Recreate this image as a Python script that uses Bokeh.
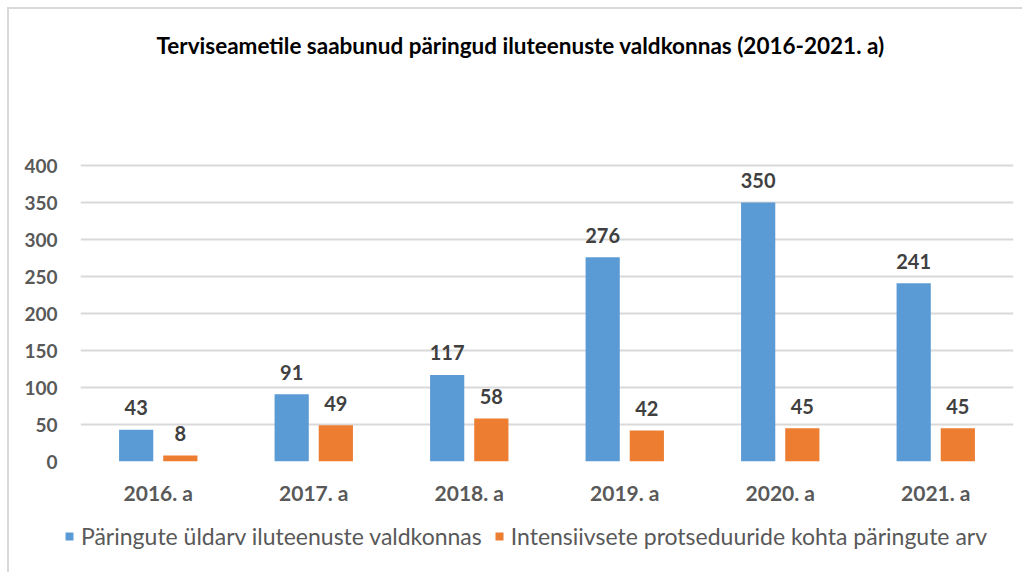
from bokeh.plotting import figure
from bokeh.models import (ColumnDataSource, FactorRange, Range1d, FixedTicker,
                          LabelSet, Label, Legend, LegendItem)
from bokeh.core.properties import value
from bokeh.transform import dodge
from bokeh.embed import file_html
from bokeh.resources import INLINE

years = ["2016. a", "2017. a", "2018. a", "2019. a", "2020. a", "2021. a"]
total = [43, 91, 117, 276, 350, 241]
intensive = [8, 49, 58, 42, 45, 45]
series_names = ["Päringute üldarv iluteenuste valdkonnas",
                "Intensiivsete protseduuride kohta päringute arv"]
title_text = "Terviseametile saabunud päringud iluteenuste valdkonnas (2016-2021. a)"
y_ticks = [0, 50, 100, 150, 200, 250, 300, 350, 400]

BLUE = "#5B9BD5"
ORANGE = "#ED7D31"
FONT = "Lato"

src = ColumnDataSource(dict(years=years, total=total, intensive=intensive,
                            total_s=[str(v) for v in total],
                            intensive_s=[str(v) for v in intensive]))

# ---- main chart ----
p = figure(x_range=FactorRange(*years, range_padding=0), y_range=Range1d(0, 597.3),
           width=1015, height=500, output_backend="svg", toolbar_location=None,
           min_border_left=71, min_border_right=11, min_border_top=10,
           min_border_bottom=48)
p.styles = {"margin-left": "7px", "margin-top": "7px",
            "border-left": "2px solid #d9d9d9", "border-top": "2px solid #d9d9d9"}

off = 0.142
w = 0.22
p.vbar(x=dodge("years", -off, range=p.x_range), top="total", width=w,
       source=src, fill_color=BLUE, line_color=None)
p.vbar(x=dodge("years", off, range=p.x_range), top="intensive", width=w,
       source=src, fill_color=ORANGE, line_color=None)

for col, d in (("total", -off), ("intensive", off)):
    ls = LabelSet(x=dodge("years", d, range=p.x_range), y=col, text=col + "_s",
                  source=src, text_align="center", text_baseline="middle",
                  y_offset=22, text_font=value(FONT), text_font_size="20px",
                  text_font_style="bold", text_color="#404040")
    p.add_layout(ls)

p.add_layout(Label(x=2.83, y=562, text=title_text, text_align="center",
                   text_baseline="middle", text_font=FONT,
                   text_font_size="22.5px", text_font_style="bold",
                   text_color="#000000"))

p.outline_line_color = None
p.xgrid.grid_line_color = None
p.ygrid.grid_line_color = "#d9d9d9"
p.ygrid.grid_line_width = 2
p.yaxis.ticker = FixedTicker(ticks=y_ticks)
for ax in (p.xaxis, p.yaxis):
    ax.axis_line_color = None
    ax.major_tick_line_color = None
    ax.minor_tick_line_color = None
    ax.major_label_text_font = FONT
    ax.major_label_text_font_style = "bold"
    ax.major_label_text_color = "#595959"
p.yaxis.major_label_text_font_size = "19px"
p.xaxis.major_label_text_font_size = "21px"
p.yaxis.major_label_standoff = 17
p.xaxis.major_label_standoff = 12

# ---- legend strip (separate root so its frame starts at the left edge) ----
q = figure(x_range=Range1d(0, 1), y_range=Range1d(0, 1), width=1015, height=65,
           output_backend="svg", toolbar_location=None,
           x_axis_location=None, y_axis_location=None,
           min_border_left=0, min_border_right=0, min_border_top=0,
           min_border_bottom=0)
q.styles = {"margin-left": "7px", "border-left": "2px solid #d9d9d9"}
q.grid.visible = False
q.outline_line_color = None
# legend swatches only (zero-height bars, nothing visible in the strip)
lr1 = q.vbar(x=[0], top=[0], width=0, fill_color=BLUE, line_color=None)
lr2 = q.vbar(x=[0], top=[0], width=0, fill_color=ORANGE, line_color=None)
legend = Legend(items=[LegendItem(label=series_names[0], renderers=[lr1]),
                       LegendItem(label=series_names[1], renderers=[lr2])],
                orientation="horizontal", location=(55, 22),
                glyph_width=10, glyph_height=10, label_standoff=7, spacing=12,
                label_text_font=FONT, label_text_font_size="23px",
                label_text_color="#595959", border_line_color=None,
                background_fill_alpha=0, padding=6, margin=0)
q.add_layout(legend, "center")

open("out.html", "w").write(file_html([p, q], INLINE))
